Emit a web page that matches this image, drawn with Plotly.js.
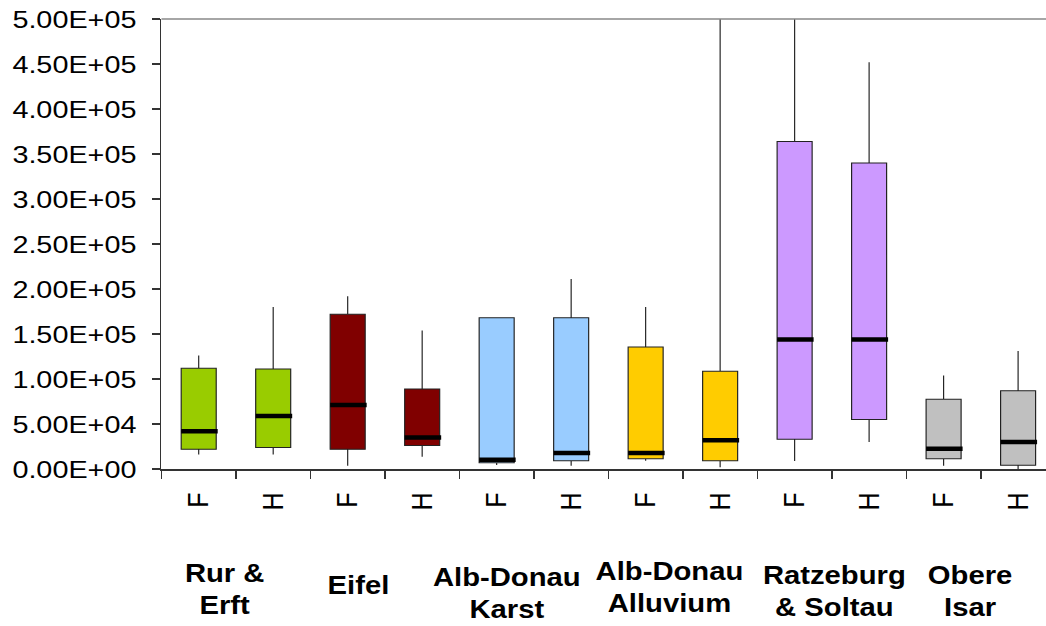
<!DOCTYPE html>
<html><head><meta charset="utf-8">
<script src="https://cdn.plot.ly/plotly-3.0.1.min.js"></script>
<style>
html,body{margin:0;padding:0;overflow:hidden;width:1046px;height:626px;background:#fff}
#wrap{transform:scaleX(1.17);transform-origin:0 0;width:920px;height:626px}
</style></head><body><div id="wrap"><div id="chart"></div></div>
<script>
// ---- data ----
const regions = ["Rur &<br>Erft", "Eifel", "Alb-Donau<br>Karst", "Alb-Donau<br>Alluvium", "Ratzeburg<br>& Soltau", "Obere<br>Isar"];
const siteTypes = ["F", "H"];
const regionColors = ["#99CC00", "#800000", "#99CCFF", "#FFCC00", "#CC99FF", "#C0C0C0"];
const lowerFence = [16000, 16000, 3700, 13700, 4400, 3700, 9200, 1900, 8900, 30000, 3700, 0];
const q1Values   = [22000, 24000, 22000, 26000, 7000, 9200, 11500, 9200, 33000, 55000, 11500, 4100];
const medians    = [42000, 59000, 71000, 35000, 10300, 17800, 17800, 32000, 144000, 144000, 22600, 30000];
const q3Values   = [112000, 111000, 172000, 89000, 168000, 168000, 135500, 108500, 364000, 340000, 77400, 87000];
const upperFence = [126000, 180000, 192000, 154000, 168000, 211000, 180000, 500000, 500000, 452000, 104000, 131000];
const yTickVals = [0, 50000, 100000, 150000, 200000, 250000, 300000, 350000, 400000, 450000, 500000];
const yTickText = ["0.00E+00", "5.00E+04", "1.00E+05", "1.50E+05", "2.00E+05", "2.50E+05", "3.00E+05", "3.50E+05", "4.00E+05", "4.50E+05", "5.00E+05"];

// ---- layout helpers ----
const boxW = 0.47;
const labelX = [0.346, 2.144, 4.13, 6.32, 8.53, 10.36];
const labelY = [-0.268, -0.258, -0.276, -0.264, -0.273, -0.273];
const FONT = "Arial, 'Liberation Sans', sans-serif";

const traces = [];
regions.forEach((r, g) => {
  const idx = [2 * g, 2 * g + 1];
  traces.push({
    type: "box",
    x: idx,
    q1: idx.map(i => q1Values[i]),
    median: idx.map(i => medians[i]),
    q3: idx.map(i => q3Values[i]),
    lowerfence: idx.map(i => lowerFence[i]),
    upperfence: idx.map(i => upperFence[i]),
    width: boxW,
    whiskerwidth: 0,
    fillcolor: regionColors[g],
    line: {color: "#222", width: 1},
    hoverinfo: "skip",
    showlegend: false
  });
});
// thick median bars
const mx = [], my = [];
medians.forEach((m, i) => {
  mx.push(i - boxW / 2, i + boxW / 2 + 0.02, null);
  my.push(m, m, null);
});
traces.push({type: "scatter", mode: "lines", x: mx, y: my, line: {color: "#000", width: 4.5}, hoverinfo: "skip", showlegend: false});

const xTickVals = lowerFence.map((_, i) => i);
const xTickText = lowerFence.map((_, i) => siteTypes[i % 2]);
const boundaries = [];
for (let i = 0; i <= lowerFence.length; i++) boundaries.push(i - 0.5);

const layout = {
  width: 920, height: 626,
  margin: {l: 138, r: 18, t: 19, b: 157},
  paper_bgcolor: "#fff", plot_bgcolor: "#fff",
  showlegend: false,
  boxmode: "overlay",
  font: {family: FONT, size: 25, color: "#000"},
  xaxis: {
    range: [-0.5, lowerFence.length - 0.5],
    tickmode: "array", tickvals: xTickVals, ticktext: xTickText,
    tickangle: -90, ticks: "", showgrid: false, zeroline: false,
    showline: true, linecolor: "#333", linewidth: 1.5,
    tickfont: {family: FONT, size: 25, color: "#000"},
    ticklabelstandoff: 12,
    minor: {tickmode: "array", tickvals: boundaries, ticks: "outside", ticklen: 8, tickcolor: "#333", tickwidth: 1.3, showgrid: false}
  },
  yaxis: {
    range: [0, 500000],
    tickmode: "array", tickvals: yTickVals, ticktext: yTickText,
    ticks: "outside", ticklen: 7, tickcolor: "#333", tickwidth: 1.3,
    showgrid: false, zeroline: false,
    showline: true, linecolor: "#333", linewidth: 1.5,
    ticklabelstandoff: 8,
    tickfont: {family: FONT, size: 24.6, color: "#000"}
  },
  shapes: [{type: "line", xref: "paper", yref: "paper", x0: 0, x1: 1, y0: 1, y1: 1, line: {color: "#888", width: 1.5}}],
  annotations: regions.map((r, g) => ({
    text: r, x: labelX[g], y: labelY[g], xref: "x", yref: "paper",
    xanchor: "center", yanchor: "middle", showarrow: false, align: "center",
    font: {family: FONT, size: 25, color: "#000", weight: 700}
  }))
};

Plotly.newPlot("chart", traces, layout, {staticPlot: true, displayModeBar: false});
</script></body></html>
